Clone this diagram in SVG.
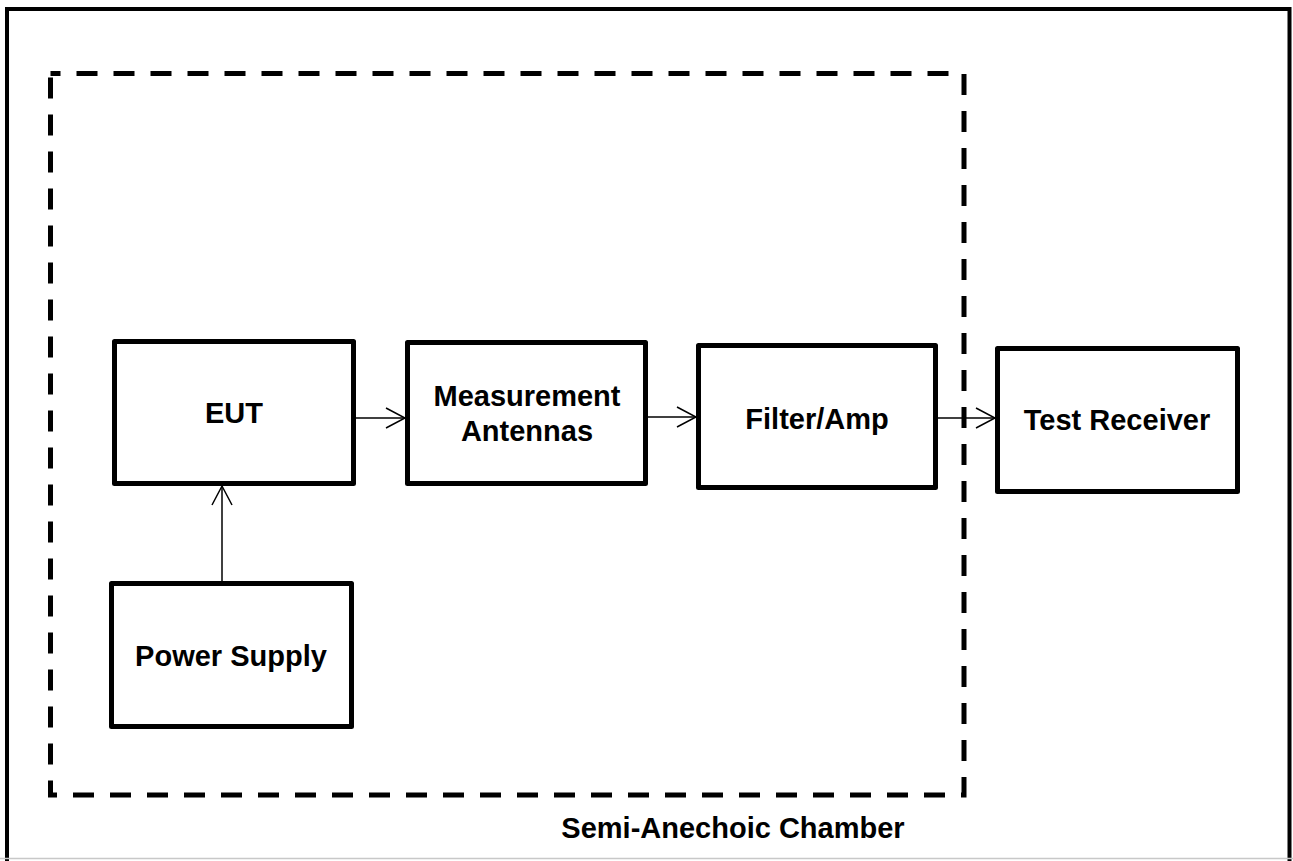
<svg xmlns="http://www.w3.org/2000/svg" width="1293" height="861" viewBox="0 0 1293 861">
<style>
.box{fill:#fff;stroke:#000;stroke-width:5;stroke-linejoin:round}
.lbl{font-family:"Liberation Sans",Arial,sans-serif;font-weight:bold;font-size:29px;fill:#000;text-anchor:middle}
.conn{stroke:#000;stroke-width:1.5;fill:none}
</style>
<defs>
<marker id="arr" viewBox="0 0 22 22" refX="20" refY="11" markerWidth="22" markerHeight="22" markerUnits="userSpaceOnUse" orient="auto">
<path d="M1,1 L20,11 L1,21" fill="none" stroke="#000" stroke-width="1.5"/>
</marker>
</defs>
<rect width="1293" height="861" fill="#fff"/>
<g id="frame">
<path d="M7,861 V9 H1289.5 V861" fill="none" stroke="#000" stroke-width="4"/>
<line x1="0" y1="858.5" x2="1293" y2="858.5" stroke="#c8c8c8" stroke-width="1.5"/>
</g>
<g id="chamber">
<rect x="50.5" y="73.5" width="913.5" height="721.5" fill="none" stroke="#000" stroke-width="5" stroke-dasharray="21 16" stroke-dashoffset="11"/>
<text class="lbl" x="733" y="838">Semi-Anechoic Chamber</text>
</g>
<g id="connectors">
<line class="conn" x1="356" y1="418" x2="405" y2="418" marker-end="url(#arr)"/>
<line class="conn" x1="648" y1="417" x2="696" y2="417" marker-end="url(#arr)"/>
<line class="conn" x1="938" y1="418" x2="995" y2="418" marker-end="url(#arr)"/>
<line class="conn" x1="222" y1="581" x2="222" y2="486" marker-end="url(#arr)"/>
</g>
<g id="eut">
<rect class="box" x="114.5" y="341.5" width="239" height="142"/>
<text class="lbl" x="234" y="423">EUT</text>
</g>
<g id="antennas">
<rect class="box" x="407.5" y="342.5" width="238" height="141"/>
<text class="lbl" x="527" y="406">Measurement</text>
<text class="lbl" x="527" y="441">Antennas</text>
</g>
<g id="filteramp">
<rect class="box" x="698.5" y="345.5" width="237" height="142"/>
<text class="lbl" x="817" y="429">Filter/Amp</text>
</g>
<g id="receiver">
<rect class="box" x="997.5" y="348.5" width="240" height="143"/>
<text class="lbl" x="1117" y="430">Test Receiver</text>
</g>
<g id="power">
<rect class="box" x="111.5" y="583.5" width="240" height="143"/>
<text class="lbl" x="231" y="666">Power Supply</text>
</g>
</svg>
